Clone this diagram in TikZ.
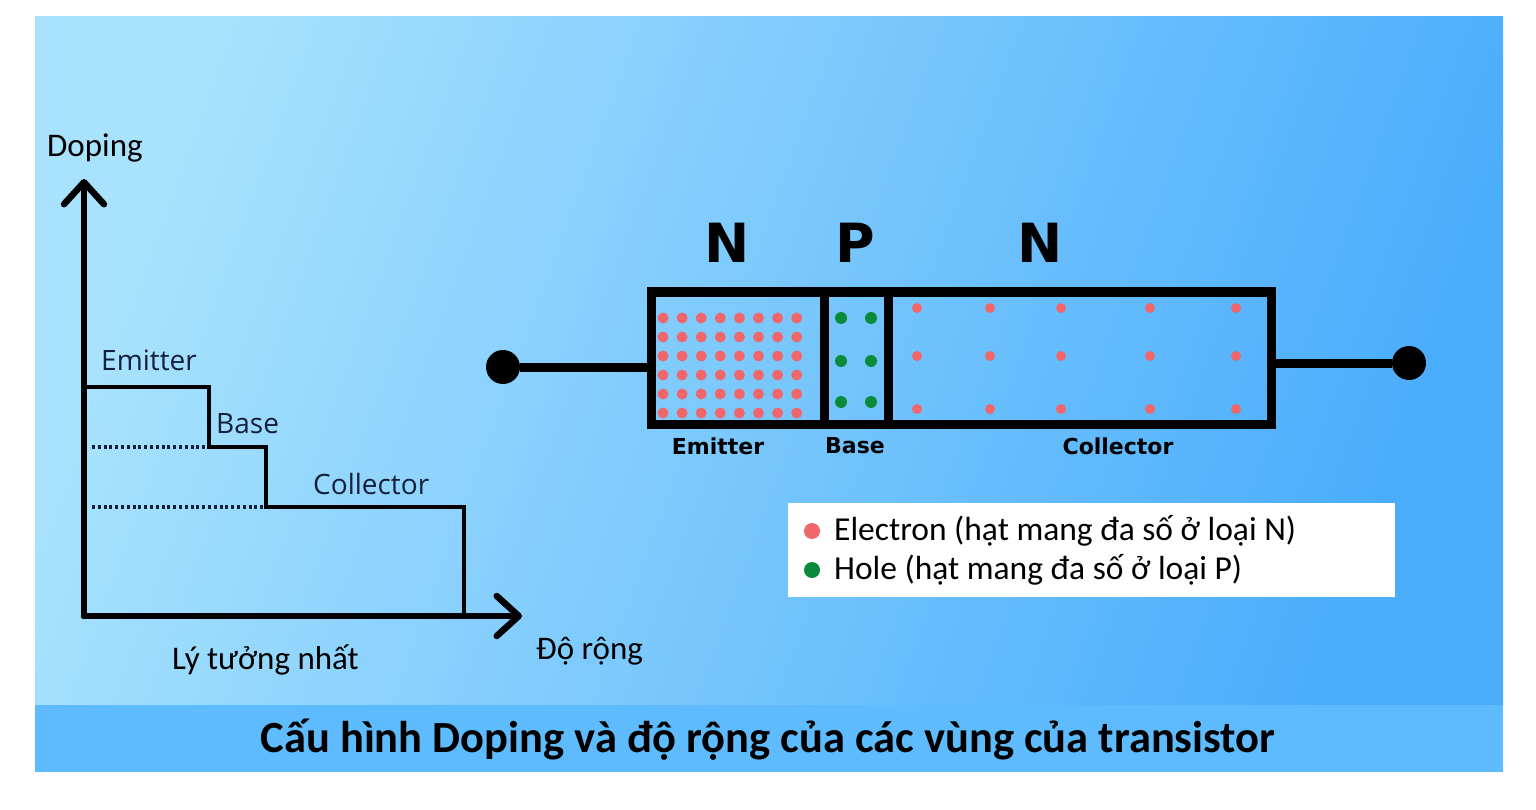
\documentclass[tikz,border=0pt]{standalone}
\usepackage{fontspec}
\setmainfont{Carlito}
\newfontfamily\opensans{Open Sans}
\newfontfamily\dejavu{DejaVu Sans}
\usetikzlibrary{arrows.meta}

\definecolor{bgtop}{HTML}{A8E2FD}
\definecolor{bgbot}{HTML}{4AADFC}
\definecolor{band}{HTML}{5EBBFD}
\definecolor{elec}{HTML}{F0666B}
\definecolor{hole}{HTML}{0C8A3C}
\definecolor{navy}{HTML}{13203A}

\tikzset{
  axisline/.style={line width=6.5pt, line cap=round, -{Straight Barb[length=22pt,width=40pt,round]}},
  levelline/.style={line width=4.5pt, line join=miter},
  guideline/.style={line width=3.2pt, dash pattern=on 3pt off 2.8pt, navy},
  graphlabel/.style={anchor=west, inner sep=0pt, text=navy, font=\opensans\fontsize{28}{34}\selectfont},
  axislabel/.style={anchor=west, inner sep=0pt, font=\fontsize{33}{40}\selectfont},
  region/.style={draw, line width=9pt, minimum height=132pt, inner sep=0pt},
  terminal/.style={circle, fill=black, minimum size=34pt, inner sep=0pt},
  lead/.style={line width=9pt},
  typelabel/.style={font=\dejavu\bfseries\fontsize{54}{60}\selectfont},
  regionlabel/.style={text=black, font=\dejavu\bfseries\fontsize{22}{26}\selectfont},
  legendlabel/.style={anchor=west, inner sep=0pt, font=\fontsize{33.5}{40}\selectfont}
}

\begin{document}
\begin{tikzpicture}[x=1pt, y=-1pt]
  \useasboundingbox (0,0) rectangle (1536,810);
  \fill[white] (0,0) rectangle (1536,810);
  % background and title band
  \shade[top color=bgtop, bottom color=bgbot, shading angle=70] (35,17) rectangle (1503,705);
  \fill[band] (35,705) rectangle (1503,772);
  \node[font=\bfseries\fontsize{44.5}{52}\selectfont] (title) at (768,740) {Cấu hình Doping và độ rộng của các vùng của transistor};

  % doping profile
  \coordinate (origin) at (84,616);
  \draw[axisline] (origin) -- (84,179);
  \draw[axisline] (origin) -- (522,616);
  \draw[levelline] (84,387) -- (209,387) -- (209,447) -- (266,447) -- (266,507) -- (464,507) -- (464,616);
  \draw[guideline] (92,447) -- (206,447);
  \draw[guideline] (92,507) -- (263,507);
  \node[axislabel] (doping) at (47,148) {Doping};
  \node[axislabel] (ideal) at (172,660) {Lý tưởng nhất};
  \node[axislabel] (width) at (536,651) {Độ rộng};
  \node[graphlabel] (emlevel) at (101,360) {Emitter};
  \node[graphlabel] (baselevel) at (216,424) {Base};
  \node[graphlabel] (collevel) at (313,484) {Collector};

  % NPN transistor
  \node[region, minimum width=173pt] (emitter) at (737.5,358) {};
  \node[region, minimum width=64pt] (base) at (856,358) {};
  \node[region, minimum width=383pt] (collector) at (1079.5,358) {};
  \node[terminal] (termE) at (503,367) {};
  \node[terminal] (termC) at (1409,363) {};
  \draw[lead] (termE) -- (termE -| emitter.west);
  \draw[lead] (collector.east |- termC) -- (termC);
  \node[typelabel] (typeE) at (727,243) {N};
  \node[typelabel] (typeB) at (855,243) {P};
  \node[typelabel] (typeC) at (1040,243) {N};
  \node[regionlabel] (nameE) at (718,446) {Emitter};
  \node[regionlabel] (nameB) at (855,446) {Base};
  \node[regionlabel] (nameC) at (1118,446) {Collector};

  % carriers
  \foreach \i in {0,...,7}
    \foreach \j in {0,...,5}
      \fill[elec] ({663+19.1*\i},{318+19*\j}) circle (5.5pt);
  \foreach \x in {841,871}
    \foreach \y in {318,361,402}
      \fill[hole] (\x,\y) circle (6pt);
  \foreach \x in {917,990,1061,1150,1236}
    \foreach \y in {308,356,409}
      \fill[elec] (\x,\y) circle (5pt);

  % legend
  \fill[white] (788,503) rectangle (1395,597);
  \fill[elec] (812,531) circle (8pt);
  \fill[hole] (812,570) circle (8pt);
  \node[legendlabel] (legE) at (834,531) {Electron (hạt mang đa số ở loại N)};
  \node[legendlabel] (legH) at (834,570) {Hole (hạt mang đa số ở loại P)};
\end{tikzpicture}
\end{document}
